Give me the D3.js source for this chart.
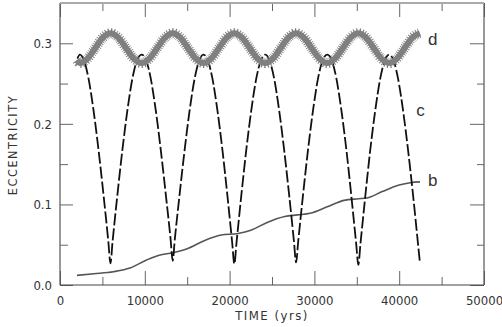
<!DOCTYPE html>
<html>
<head>
<meta charset="utf-8">
<script src="https://cdn.jsdelivr.net/npm/d3@7"></script>
<style>
  body { margin: 0; background: #fff; }
  text { font-family: "Liberation Sans Narrow", "DejaVu Sans Condensed", "Liberation Sans", sans-serif; fill: #333; }
</style>
</head>
<body>
<div id="chart"></div>
<script>
// axis ticks
const xMajor = [0, 10000, 20000, 30000, 40000, 50000];
const xMinor = [5000, 15000, 25000, 35000, 45000];
const yMajor = [0.0, 0.1, 0.2, 0.3];
const yMinor = [0.05, 0.15, 0.25];

// curve b (slow growth)
const bYears = [2000, 4000, 6300, 8250, 10200, 11700, 13300, 15000, 17000, 19000, 21000, 22500,
  24500, 26500, 28000, 29500, 31500, 33500, 35200, 36200, 38000, 40000, 41300, 42450];
const bEcc = [0.012, 0.014, 0.0165, 0.021, 0.031, 0.037, 0.040, 0.045, 0.055, 0.062, 0.064, 0.068,
  0.078, 0.085, 0.087, 0.089, 0.097, 0.105, 0.107, 0.108, 0.116, 0.124, 0.127, 0.128];

// curve c (dashed, deep oscillation)
const cYears = [2050, 2350,
  2850, 3350, 3950, 4550, 5150, 5700, 5950, 6200, 6750, 7350, 7950, 8550, 9050, 9630,
  10190, 10690, 11290, 11890, 12490, 13040, 13290, 13540, 14090, 14690, 15290, 15890, 16390, 16920,
  17460, 17960, 18560, 19160, 19760, 20310, 20560, 20810, 21360, 21960, 22560, 23160, 23660, 24200,
  24740, 25240, 25840, 26440, 27040, 27590, 27840, 28090, 28640, 29240, 29840, 30440, 30940, 31510,
  32080, 32580, 33180, 33780, 34380, 34930, 35180, 35430, 35980, 36580, 37180, 37780, 38280, 38820,
  39350, 39850, 40450, 41050, 41650, 42200, 42450];
const cEcc = [0.281, 0.286,
  0.278, 0.257, 0.217, 0.167, 0.110, 0.054, 0.027, 0.054, 0.110, 0.167, 0.217, 0.257, 0.278, 0.286,
  0.278, 0.257, 0.217, 0.167, 0.111, 0.057, 0.030, 0.057, 0.111, 0.167, 0.217, 0.257, 0.278, 0.286,
  0.278, 0.257, 0.217, 0.167, 0.109, 0.052, 0.026, 0.052, 0.109, 0.167, 0.217, 0.257, 0.278, 0.286,
  0.278, 0.257, 0.217, 0.167, 0.110, 0.054, 0.028, 0.054, 0.110, 0.167, 0.217, 0.257, 0.278, 0.286,
  0.278, 0.257, 0.217, 0.167, 0.108, 0.051, 0.025, 0.051, 0.108, 0.167, 0.217, 0.257, 0.278, 0.286,
  0.278, 0.257, 0.217, 0.167, 0.110, 0.053, 0.027];

// curve d (grey band, small oscillation)
const dYears = [2000, 2350, 3250, 4150, 5050, 5950, 6870, 7790, 8710, 9630,
  10540, 11460, 12380, 13290, 14200, 15100, 16010, 16920, 17830, 18740, 19650, 20560,
  21470, 22380, 23290, 24200, 25110, 26020, 26930, 27840, 28760, 29680, 30600, 31510,
  32430, 33350, 34260, 35180, 36090, 37000, 37910, 38820, 39730, 40640, 41550, 42450];
const dEcc = [0.279, 0.2755, 0.281, 0.294, 0.307, 0.3125, 0.307, 0.294, 0.281, 0.2755,
  0.281, 0.294, 0.307, 0.3125, 0.307, 0.294, 0.281, 0.2755, 0.281, 0.294, 0.307, 0.3125,
  0.307, 0.294, 0.281, 0.2755, 0.281, 0.294, 0.307, 0.3125, 0.307, 0.294, 0.281, 0.2755,
  0.281, 0.294, 0.307, 0.3125, 0.307, 0.294, 0.281, 0.2755, 0.281, 0.294, 0.307, 0.3125];

const margin = { top: 3, right: 18, bottom: 42, left: 60 };
const width = 502 - margin.left - margin.right;
const height = 327 - margin.top - margin.bottom;

const svg = d3.select("#chart")
  .append("svg")
  .attr("width", 502)
  .attr("height", 327);

const chart = svg.append("g")
  .attr("transform", `translate(${margin.left},${margin.top})`);

const x = d3.scaleLinear().domain([0, 50000]).range([0, width]);
const y = d3.scaleLinear().domain([0, 0.35]).range([height, 0]);

function styleAxis(g) {
  g.select(".domain").remove();
  g.selectAll(".tick line").attr("stroke", "#666");
  g.selectAll(".tick text").style("font-size", "13px").attr("fill", "#333");
}

// bottom
chart.append("g")
  .attr("transform", `translate(0,${height})`)
  .call(d3.axisBottom(x).tickValues(xMajor).tickSize(-14).tickPadding(11).tickFormat(d3.format("d")))
  .call(styleAxis);
chart.append("g")
  .attr("transform", `translate(0,${height})`)
  .call(d3.axisBottom(x).tickValues(xMinor).tickSize(-8).tickFormat(""))
  .call(styleAxis);

// top
chart.append("g")
  .call(d3.axisTop(x).tickValues(xMajor).tickSize(-14).tickFormat(""))
  .call(styleAxis);
chart.append("g")
  .call(d3.axisTop(x).tickValues(xMinor).tickSize(-8).tickFormat(""))
  .call(styleAxis);

// left
chart.append("g")
  .call(d3.axisLeft(y).tickValues(yMajor).tickSize(-13).tickPadding(8).tickFormat(d3.format(".1f")))
  .call(styleAxis);
chart.append("g")
  .call(d3.axisLeft(y).tickValues(yMinor).tickSize(-8).tickFormat(""))
  .call(styleAxis);

// right
chart.append("g")
  .attr("transform", `translate(${width},0)`)
  .call(d3.axisRight(y).tickValues(yMajor).tickSize(-14).tickFormat(""))
  .call(styleAxis);
chart.append("g")
  .attr("transform", `translate(${width},0)`)
  .call(d3.axisRight(y).tickValues(yMinor).tickSize(-7).tickFormat(""))
  .call(styleAxis);

// frame
chart.append("line").attr("x1", 0).attr("x2", width).attr("y1", height).attr("y2", height)
  .attr("stroke", "#444").attr("stroke-width", 1.2);
chart.append("line").attr("x1", 0).attr("x2", 0).attr("y1", 0).attr("y2", height)
  .attr("stroke", "#555").attr("stroke-width", 1.2);
chart.append("line").attr("x1", width).attr("x2", width).attr("y1", 0).attr("y2", height)
  .attr("stroke", "#555").attr("stroke-width", 1.2);
chart.append("line").attr("x1", 0).attr("x2", width).attr("y1", 0).attr("y2", 0)
  .attr("stroke", "#aaa").attr("stroke-width", 2);

// curves
const bData = bYears.map((t, i) => ({ t, e: bEcc[i] }));
const cData = cYears.map((t, i) => ({ t, e: cEcc[i] }));
const dData = dYears.map((t, i) => ({ t, e: dEcc[i] }));

const smooth = d3.line().x(d => x(d.t)).y(d => y(d.e)).curve(d3.curveMonotoneX);

chart.append("path")
  .datum(bData)
  .attr("fill", "none")
  .attr("stroke", "#555")
  .attr("stroke-width", 1.6)
  .attr("d", smooth);

chart.append("path")
  .datum(cData)
  .attr("fill", "none")
  .attr("stroke", "#111")
  .attr("stroke-width", 1.8)
  .attr("stroke-dasharray", "12,3")
  .attr("d", smooth);

chart.append("path")
  .datum(dData)
  .attr("fill", "none")
  .attr("stroke", "#828282")
  .attr("stroke-width", 6)
  .attr("d", smooth);

chart.append("path")
  .datum(dData)
  .attr("fill", "none")
  .attr("stroke", "#7c7c7c")
  .attr("stroke-width", 10)
  .attr("stroke-dasharray", "0.8,1.4")
  .attr("d", smooth);

// curve labels
const labels = [
  { text: "d", t: 43400, e: 0.305 },
  { text: "c", t: 42000, e: 0.217 },
  { text: "b", t: 43400, e: 0.130 }
];
chart.selectAll(".curve-label")
  .data(labels)
  .enter()
  .append("text")
  .attr("class", "curve-label")
  .attr("x", d => x(d.t))
  .attr("y", d => y(d.e))
  .attr("dy", "0.35em")
  .style("font-family", "'Liberation Sans', Arial, sans-serif")
  .style("font-size", "17px")
  .attr("fill", "#222")
  .text(d => d.text);

// axis titles
svg.append("text")
  .attr("x", margin.left + width / 2)
  .attr("y", 320)
  .attr("text-anchor", "middle")
  .style("font-size", "13px")
  .style("letter-spacing", "1.5px")
  .text("TIME (yrs)");

svg.append("text")
  .attr("transform", "rotate(-90)")
  .attr("x", -145)
  .attr("y", 17)
  .attr("text-anchor", "middle")
  .style("font-size", "12.5px")
  .style("letter-spacing", "1.6px")
  .text("ECCENTRICITY");
</script>
</body>
</html>
